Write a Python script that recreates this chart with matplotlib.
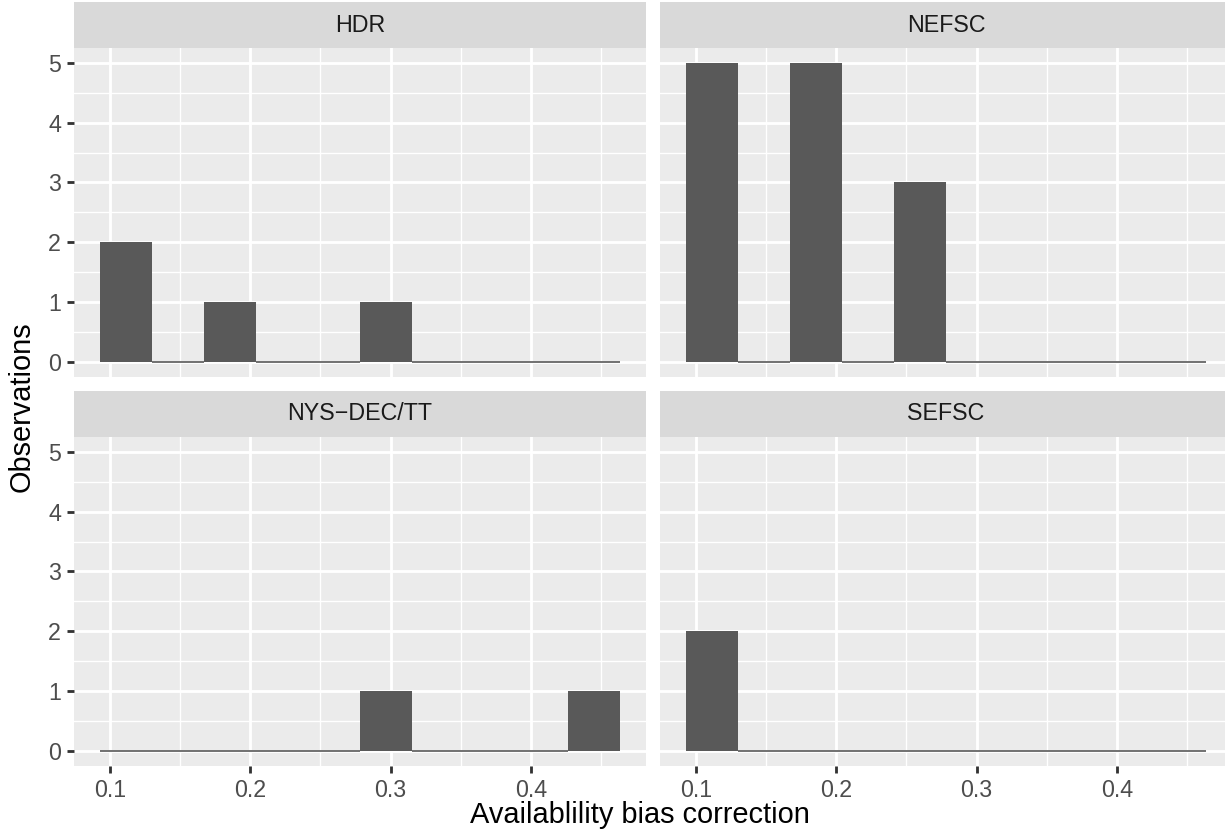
import numpy as np
import matplotlib
matplotlib.use('Agg')
from matplotlib import pyplot as plt
from matplotlib.ticker import FixedLocator

# Histogram bins (shared by all facets)
bin_edges = [0.0929, 0.1299, 0.1670, 0.2040, 0.2411, 0.2781,
             0.3152, 0.3522, 0.3892, 0.4263, 0.4633]

# Facet names and counts per bin
panels = ["HDR", "NEFSC", "NYS\u2212DEC/TT", "SEFSC"]
counts_hdr = [2, 0, 1, 0, 0, 1, 0, 0, 0, 0]
counts_nefsc = [5, 0, 5, 0, 3, 0, 0, 0, 0, 0]
counts_nys = [0, 0, 0, 0, 0, 1, 0, 0, 0, 1]
counts_sefsc = [2, 0, 0, 0, 0, 0, 0, 0, 0, 0]

x_ticks = [0.1, 0.2, 0.3, 0.4]
y_ticks = [0, 1, 2, 3, 4, 5]

plt.rcParams['font.family'] = ['Liberation Sans', 'DejaVu Sans']

W, H = 1225, 836
DPI = 190
fig = plt.figure(figsize=(W / DPI, H / DPI), dpi=DPI)

BAR = '#595959'
PANEL_BG = '#EBEBEB'
STRIP_BG = '#D9D9D9'


def px_axes(x0, y0, x1, y1):
    """Add axes from pixel box (top-left origin)"""
    return fig.add_axes([x0 / W, 1 - y1 / H, (x1 - x0) / W, (y1 - y0) / H])


# pixel layout: (panel x0, x1), (strip top, panel top, panel bottom)
cols = [(74, 646), (660, 1232)]
rows = [(2, 48, 376.7), (391, 437, 765.7)]

all_counts = [counts_hdr, counts_nefsc, counts_nys, counts_sefsc]
edges = np.array(bin_edges)
lefts = edges[:-1]
widths = np.diff(edges)

for k, name in enumerate(panels):
    r, c = divmod(k, 2)
    x0, x1 = cols[c]
    s0, p0, p1 = rows[r]

    # strip
    sax = px_axes(x0, s0, x1, p0)
    sax.set_facecolor(STRIP_BG)
    sax.set_xticks([])
    sax.set_yticks([])
    for sp in sax.spines.values():
        sp.set_visible(False)
    sax.text(0.5, 0.5, name, ha='center', va='center', fontsize=8.8,
             color='#1A1A1A', transform=sax.transAxes)

    ax = px_axes(x0, p0, x1, p1)
    ax.set_facecolor(PANEL_BG)
    for sp in ax.spines.values():
        sp.set_visible(False)
    ax.set_xlim(0.0744, 0.4820)
    ax.set_ylim(-0.25, 5.25)
    ax.xaxis.set_major_locator(FixedLocator(x_ticks))
    ax.xaxis.set_minor_locator(FixedLocator([0.15, 0.25, 0.35, 0.45]))
    ax.yaxis.set_major_locator(FixedLocator(y_ticks))
    ax.yaxis.set_minor_locator(FixedLocator([0.5, 1.5, 2.5, 3.5, 4.5]))
    ax.grid(which='major', color='white', linewidth=1.07)
    ax.grid(which='minor', color='white', linewidth=0.53)
    ax.set_axisbelow(True)
    ax.tick_params(which='minor', length=0)
    ax.tick_params(which='major', length=2.75, width=1.07, color='#333333',
                   labelsize=8.8, labelcolor='#4D4D4D', pad=2.2)

    counts = np.array(all_counts[k])
    ax.bar(lefts, counts, width=widths, align='edge', color=BAR,
           linewidth=0, zorder=2)
    # zero-height bins show as a thin line
    for l, w, h in zip(lefts, widths, counts):
        if h == 0:
            ax.plot([l, l + w], [0, 0], color='#505050', linewidth=0.6,
                    solid_capstyle='butt', zorder=2)

    ax.set_xticklabels([str(t) for t in x_ticks])
    ax.set_yticklabels([str(t) for t in y_ticks])
    if r == 0:
        ax.tick_params(axis='x', which='both', length=0, labelbottom=False)
    if c == 1:
        ax.tick_params(axis='y', which='both', length=0, labelleft=False)

fig.text(640 / W, 1 - 815 / H, "Availablility bias correction",
         ha='center', va='center', fontsize=11, color='black')
fig.text(22 / W, 1 - 407 / H, "Observations", ha='center', va='center',
         rotation=90, fontsize=11, color='black')

fig.savefig('out.png', dpi=DPI, facecolor='white')
